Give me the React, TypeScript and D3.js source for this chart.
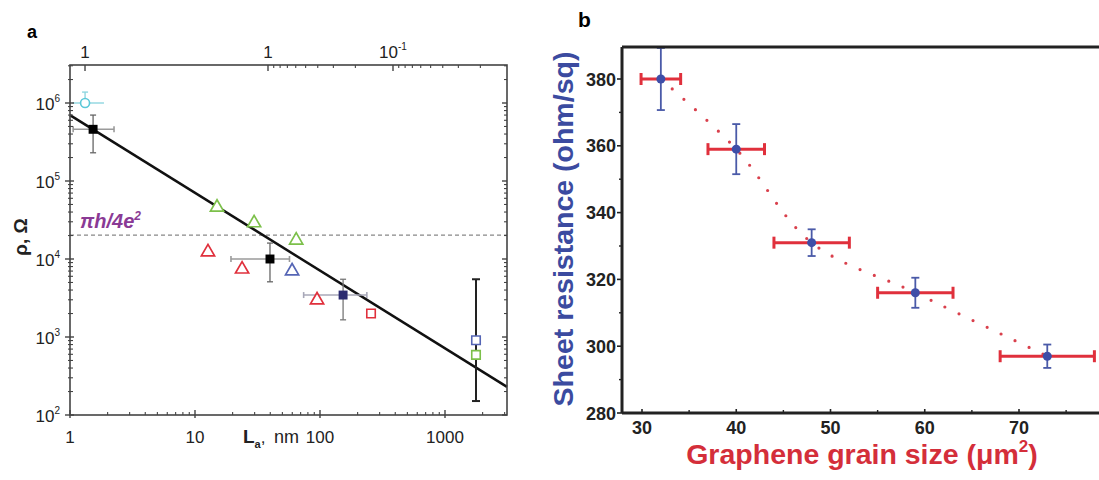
import React from 'react';
import * as d3 from 'd3';

// ---------------- Panel a data ----------------
const cyanL = [1.32];
const cyanRho = [1.0e6];
const cyanXLo = [1.04];
const cyanXHi = [1.87];
const cyanYHi = [1.38e6];

const blackL = [1.53, 39.8];
const blackRho = [4.6e5, 1.0e4];
const blackXLo = [1.06, 19.4];
const blackXHi = [2.25, 57];
const blackYLo = [2.3e5, 5.1e3];
const blackYHi = [7.0e5, 1.6e4];

const navyL = [153];
const navyRho = [3.45e3];
const navyXLo = [74];
const navyXHi = [237];
const navyYLo = [1.66e3];
const navyYHi = [5.5e3];

const greenTriL = [15, 29.7, 64.5];
const greenTriRho = [4.6e4, 2.9e4, 1.74e4];
const redTriL = [12.7, 23.8, 94.7];
const redTriRho = [1.23e4, 7.4e3, 2.97e3];
const blueTriL = [59.8];
const blueTriRho = [7.0e3];
const redSqL = [256];
const redSqRho = [2.0e3];
const blueSqL = [1770];
const blueSqRho = [910];
const greenSqL = [1770];
const greenSqRho = [590];
const bigErrL = [1770];
const bigErrLo = [151];
const bigErrHi = [5.5e3];

const fitLine: [number, number][] = [[1, 7.0e5], [3133, 229]];
const quantumRho = 20273; // pi h / 4e^2

const yMajorA = [1e2, 1e3, 1e4, 1e5, 1e6];
const yMajorExp = ['2', '3', '4', '5', '6'];
const xMajorA = [1, 10, 100, 1000];
const xMajorLabels = ['1', '10', '100', '1000'];
const topMajor = [29.1, 1, 0.1];
const topMajorLabels = ['1', '1', '10'];
const topMajorSup = ['', '', '-1'];
const topMinor = [0.9, 0.8, 0.7, 0.6, 0.5, 0.4, 0.3, 0.2, 0.09, 0.08, 0.07, 0.06, 0.05, 0.04, 0.03, 0.02];

// ---------------- Panel b data ----------------
const grainSize = [32, 40, 48, 59, 73];
const grainErr = [2.1, 3, 4, 4, 5];
const sheetRes = [380, 359, 331, 316, 297];
const sheetErr = [9.3, 7.5, 4, 4.5, 3.5];
const xTicksB = [30, 40, 50, 60, 70];
const xMinorB = [35, 45, 55, 65, 75];
const yTicksB = [280, 300, 320, 340, 360, 380];
const yMinorB = [290, 310, 330, 350, 370];

const FONT = '"Liberation Sans", Arial, Helvetica, sans-serif';

export default function App() {
  // Panel a scales
  const xA = d3.scaleLog().domain([1, Math.pow(10, 437 / 125)]).range([70, 507]);
  const yA = d3.scaleLog().domain([100, Math.pow(10, 2 + 350 / 78)]).range([415, 65]);
  const topA = d3.scaleLog().domain([Math.pow(10, 198 / 125), Math.pow(10, -239 / 125)]).range([70, 507]);
  const [aL, aR] = xA.range();
  const [aB, aT] = yA.range();

  const yMinorA: number[] = [];
  for (let e = 2; e <= 6; e++) for (let k = 2; k <= 9; k++) { const v = k * Math.pow(10, e); if (v < yA.domain()[1]) yMinorA.push(v); }
  const xMinorA: number[] = [];
  for (let e = 0; e <= 3; e++) for (let k = 2; k <= 9; k++) { const v = k * Math.pow(10, e); if (v < xA.domain()[1]) xMinorA.push(v); }

  // Panel b scales
  const xB = d3.scaleLinear().domain([30, 70]).range([642, 1019]);
  const yB = d3.scaleLinear().domain([280, 380]).range([413, 79]);
  const bL = 622, bR = xB(80), bT = 47, bB = 413;

  const tri = d3.symbol(d3.symbolTriangle).size(75)()!;
  const sq = d3.symbol(d3.symbolSquare).size(72)()!;
  const sqFill = d3.symbol(d3.symbolSquare).size(80)()!;

  const dotted = d3.line<number>()
    .x((_, i) => xB(grainSize[i]))
    .y((d) => yB(d))
    .curve(d3.curveCatmullRom)(sheetRes)!;

  const axA = '#444';
  const errH = '#9a9a9a';
  const errV = '#666';

  return (
    <svg width={1099} height={480} style={{ position: 'absolute', left: 0, top: 0, background: '#fff' }} fontFamily={FONT}>
      {/* ============ Panel a ============ */}
      <text x={27} y={38} fontSize={18} fontWeight="bold">a</text>
      {/* dashed quantum line */}
      <line x1={aL} x2={aR} y1={yA(quantumRho)} y2={yA(quantumRho)} stroke="#888" strokeWidth={1.3} strokeDasharray="4 3" />
      <text x={80} y={228} fontSize={20} fontStyle="italic" fontWeight="bold" fill="#8a3a95">πh/4e<tspan dy={-8} fontSize={12}>2</tspan></text>
      {/* fit line */}
      <line x1={xA(fitLine[0][0])} y1={yA(fitLine[0][1])} x2={xA(fitLine[1][0])} y2={yA(fitLine[1][1])} stroke="#111" strokeWidth={2.5} />

      {/* error bars */}
      {cyanL.map((l, i) => (
        <g key={'ce' + i} stroke="#8fd6e0" strokeWidth={1.4}>
          <line x1={xA(cyanXLo[i])} x2={xA(cyanXHi[i])} y1={yA(cyanRho[i])} y2={yA(cyanRho[i])} />
          <line x1={xA(l)} x2={xA(l)} y1={yA(cyanRho[i])} y2={yA(cyanYHi[i])} />
          <line x1={xA(l) - 3} x2={xA(l) + 3} y1={yA(cyanYHi[i])} y2={yA(cyanYHi[i])} />
        </g>
      ))}
      {blackL.map((l, i) => (
        <g key={'be' + i}>
          <g stroke={errH} strokeWidth={1.6}>
            <line x1={xA(blackXLo[i])} x2={xA(blackXHi[i])} y1={yA(blackRho[i])} y2={yA(blackRho[i])} />
            <line x1={xA(blackXLo[i])} x2={xA(blackXLo[i])} y1={yA(blackRho[i]) - 3} y2={yA(blackRho[i]) + 3} />
            <line x1={xA(blackXHi[i])} x2={xA(blackXHi[i])} y1={yA(blackRho[i]) - 3} y2={yA(blackRho[i]) + 3} />
          </g>
          <g stroke={errV} strokeWidth={1.3}>
            <line x1={xA(l)} x2={xA(l)} y1={yA(blackYLo[i])} y2={yA(blackYHi[i])} />
            <line x1={xA(l) - 3} x2={xA(l) + 3} y1={yA(blackYLo[i])} y2={yA(blackYLo[i])} />
            <line x1={xA(l) - 3} x2={xA(l) + 3} y1={yA(blackYHi[i])} y2={yA(blackYHi[i])} />
          </g>
        </g>
      ))}
      {navyL.map((l, i) => (
        <g key={'ne' + i}>
          <g stroke="#a8a8b8" strokeWidth={1.6}>
            <line x1={xA(navyXLo[i])} x2={xA(navyXHi[i])} y1={yA(navyRho[i])} y2={yA(navyRho[i])} />
            <line x1={xA(navyXLo[i])} x2={xA(navyXLo[i])} y1={yA(navyRho[i]) - 3} y2={yA(navyRho[i]) + 3} />
            <line x1={xA(navyXHi[i])} x2={xA(navyXHi[i])} y1={yA(navyRho[i]) - 3} y2={yA(navyRho[i]) + 3} />
          </g>
          <g stroke="#777" strokeWidth={1.3}>
            <line x1={xA(l)} x2={xA(l)} y1={yA(navyYLo[i])} y2={yA(navyYHi[i])} />
            <line x1={xA(l) - 3} x2={xA(l) + 3} y1={yA(navyYLo[i])} y2={yA(navyYLo[i])} />
            <line x1={xA(l) - 3} x2={xA(l) + 3} y1={yA(navyYHi[i])} y2={yA(navyYHi[i])} />
          </g>
        </g>
      ))}
      {bigErrL.map((l, i) => (
        <g key={'ge' + i} stroke="#222" strokeWidth={2}>
          <line x1={xA(l)} x2={xA(l)} y1={yA(bigErrLo[i])} y2={yA(bigErrHi[i])} />
          <line x1={xA(l) - 4} x2={xA(l) + 4} y1={yA(bigErrLo[i])} y2={yA(bigErrLo[i])} />
          <line x1={xA(l) - 4} x2={xA(l) + 4} y1={yA(bigErrHi[i])} y2={yA(bigErrHi[i])} />
        </g>
      ))}

      {/* markers */}
      {cyanL.map((l, i) => <circle key={'c' + i} cx={xA(l)} cy={yA(cyanRho[i])} r={4.5} fill="#fff" stroke="#5cc8d8" strokeWidth={1.6} />)}
      {greenTriL.map((l, i) => <path key={'gt' + i} d={tri} transform={`translate(${xA(l)},${yA(greenTriRho[i])})`} fill="#fff" stroke="#7cc04a" strokeWidth={1.7} />)}
      {redTriL.map((l, i) => <path key={'rt' + i} d={tri} transform={`translate(${xA(l)},${yA(redTriRho[i])})`} fill="#fff" stroke="#e0303c" strokeWidth={1.7} />)}
      {blueTriL.map((l, i) => <path key={'bt' + i} d={tri} transform={`translate(${xA(l)},${yA(blueTriRho[i])})`} fill="#fff" stroke="#5565b5" strokeWidth={1.7} />)}
      {redSqL.map((l, i) => <path key={'rs' + i} d={sq} transform={`translate(${xA(l)},${yA(redSqRho[i])})`} fill="#fff" stroke="#e0303c" strokeWidth={1.6} />)}
      {blueSqL.map((l, i) => <path key={'bs' + i} d={sq} transform={`translate(${xA(l)},${yA(blueSqRho[i])})`} fill="#fff" stroke="#5565b5" strokeWidth={1.6} />)}
      {greenSqL.map((l, i) => <path key={'gs' + i} d={sq} transform={`translate(${xA(l)},${yA(greenSqRho[i])})`} fill="#fff" stroke="#7cc04a" strokeWidth={1.6} />)}
      {blackL.map((l, i) => <path key={'bk' + i} d={sqFill} transform={`translate(${xA(l)},${yA(blackRho[i])})`} fill="#000" />)}
      {navyL.map((l, i) => <path key={'nv' + i} d={sqFill} transform={`translate(${xA(l)},${yA(navyRho[i])})`} fill="#2a2a70" />)}

      {/* axes box a */}
      <rect x={aL} y={aT} width={aR - aL} height={aB - aT} fill="none" stroke={axA} strokeWidth={1.6} />
      {/* left & right ticks */}
      {yMajorA.map((v, i) => (
        <g key={'ym' + i} stroke={axA} strokeWidth={1.4}>
          <line x1={aL - 5} x2={aL + 4} y1={yA(v)} y2={yA(v)} />
          <line x1={aR - 5} x2={aR} y1={yA(v)} y2={yA(v)} />
        </g>
      ))}
      {yMinorA.map((v, i) => (
        <g key={'yn' + i} stroke={axA} strokeWidth={1.1}>
          <line x1={aL - 2} x2={aL + 3} y1={yA(v)} y2={yA(v)} />
          <line x1={aR - 3} x2={aR} y1={yA(v)} y2={yA(v)} />
        </g>
      ))}
      {yMajorA.map((v, i) => (
        <text key={'yl' + i} x={60} y={yA(v) + 7} fontSize={17} textAnchor="end" fill="#222">10<tspan dy={-8} fontSize={10}>{yMajorExp[i]}</tspan></text>
      ))}
      {/* bottom ticks */}
      {xMajorA.map((v, i) => (
        <g key={'xm' + i}>
          <line x1={xA(v)} x2={xA(v)} y1={aB + 3} y2={aB - 5} stroke={axA} strokeWidth={1.4} />
          <text x={xA(v)} y={443} fontSize={17} textAnchor="middle" fill="#222">{xMajorLabels[i]}</text>
        </g>
      ))}
      {xMinorA.map((v, i) => <line key={'xn' + i} x1={xA(v)} x2={xA(v)} y1={aB} y2={aB - 3} stroke={axA} strokeWidth={1.1} />)}
      {/* top axis */}
      {topMajor.map((v, i) => (
        <g key={'tm' + i}>
          <line x1={topA(v)} x2={topA(v)} y1={aT} y2={aT + 6} stroke={axA} strokeWidth={1.4} />
          <text x={topA(v)} y={58} fontSize={17} textAnchor="middle" fill="#222">{topMajorLabels[i]}{topMajorSup[i] ? <tspan dy={-8} fontSize={10}>{topMajorSup[i]}</tspan> : null}</text>
        </g>
      ))}
      {topMinor.map((v, i) => <line key={'tn' + i} x1={topA(v)} x2={topA(v)} y1={aT} y2={aT + 3} stroke={axA} strokeWidth={1.1} />)}
      {/* axis labels a */}
      <text transform="translate(27,237) rotate(-90)" fontSize={19} fontWeight="bold" textAnchor="middle" fill="#222">ρ, Ω</text>
      <text x={243} y={443} fill="#222"><tspan fontSize={19} fontWeight="bold">L</tspan><tspan dy={5} fontSize={11} fontWeight="bold">a</tspan><tspan dy={-5} fontSize={17}>, </tspan><tspan x={274} fontSize={18}>nm</tspan></text>

      {/* ============ Panel b ============ */}
      <text x={578} y={27} fontSize={21} fontWeight="bold">b</text>
      <path d={dotted} fill="none" stroke="#d9404c" strokeWidth={3.2} strokeLinecap="round" strokeDasharray="0 15.5" />
      {grainSize.map((g, i) => (
        <g key={'bx' + i}>
          <g stroke="#e0303c" strokeWidth={3}>
            <line x1={xB(g - grainErr[i])} x2={xB(g + grainErr[i])} y1={yB(sheetRes[i])} y2={yB(sheetRes[i])} />
            <line x1={xB(g - grainErr[i])} x2={xB(g - grainErr[i])} y1={yB(sheetRes[i]) - 6} y2={yB(sheetRes[i]) + 6} />
            <line x1={xB(g + grainErr[i])} x2={xB(g + grainErr[i])} y1={yB(sheetRes[i]) - 6} y2={yB(sheetRes[i]) + 6} />
          </g>
          <g stroke="#4a5aa8" strokeWidth={1.8}>
            <line x1={xB(g)} x2={xB(g)} y1={yB(sheetRes[i] - sheetErr[i])} y2={yB(sheetRes[i] + sheetErr[i])} />
            <line x1={xB(g) - 4} x2={xB(g) + 4} y1={yB(sheetRes[i] - sheetErr[i])} y2={yB(sheetRes[i] - sheetErr[i])} />
            <line x1={xB(g) - 4} x2={xB(g) + 4} y1={yB(sheetRes[i] + sheetErr[i])} y2={yB(sheetRes[i] + sheetErr[i])} />
          </g>
          <circle cx={xB(g)} cy={yB(sheetRes[i])} r={4.5} fill="#3e4ea8" />
        </g>
      ))}
      {/* frame b */}
      <line x1={bL} x2={bR} y1={bT} y2={bT} stroke="#222" strokeWidth={3} />
      <line x1={bL} x2={bR} y1={bB} y2={bB} stroke="#222" strokeWidth={3} />
      <line x1={bL} x2={bL} y1={bT} y2={bB} stroke="#222" strokeWidth={3} />
      {yTicksB.map((v, i) => (
        <g key={'ybt' + i}>
          <line x1={bL - 5} x2={bL} y1={yB(v)} y2={yB(v)} stroke="#222" strokeWidth={1.6} />
          <text x={bL - 6} y={yB(v) + 6.5} fontSize={18} fontWeight="bold" textAnchor="end" fill="#222">{v}</text>
        </g>
      ))}
      {yMinorB.map((v, i) => <line key={'ybn' + i} x1={bL - 3} x2={bL} y1={yB(v)} y2={yB(v)} stroke="#222" strokeWidth={1.4} />)}
      {xTicksB.map((v, i) => (
        <g key={'xbt' + i}>
          <line x1={xB(v)} x2={xB(v)} y1={bB} y2={bB - 4} stroke="#222" strokeWidth={1.6} />
          <text x={xB(v)} y={434} fontSize={18} fontWeight="bold" textAnchor="middle" fill="#222">{v}</text>
        </g>
      ))}
      {xMinorB.map((v, i) => <line key={'xbn' + i} x1={xB(v)} x2={xB(v)} y1={bB} y2={bB - 3} stroke="#222" strokeWidth={1.4} />)}
      <text transform="translate(573,229) rotate(-90)" fontSize={28.5} fontWeight="bold" textAnchor="middle" fill="#3b4ba0">Sheet resistance (ohm/sq)</text>
      <text x={862} y={464} fontSize={28.5} fontWeight="bold" textAnchor="middle" fill="#d42e3a">Graphene grain size (μm<tspan dy={-12} fontSize={17}>2</tspan><tspan dy={12}>)</tspan></text>
    </svg>
  );
}
